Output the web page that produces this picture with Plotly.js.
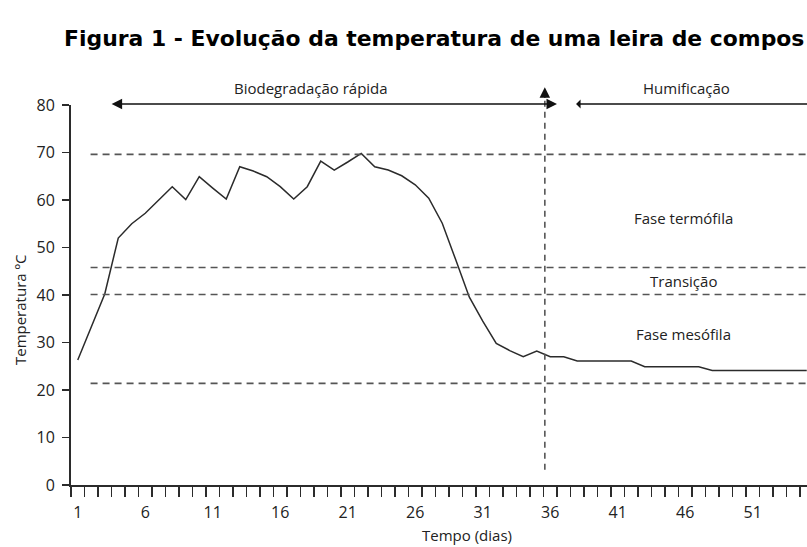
<!DOCTYPE html>
<html>
<head>
<meta charset="utf-8">
<script src="https://cdn.plot.ly/plotly-3.0.1.min.js"></script>
<style>
  html, body { margin: 0; padding: 0; background: #fff; overflow: hidden; }
  #chart { width: 807px; height: 547px; }
</style>
</head>
<body>
<div id="chart"></div>
<script>
// ---- data ----
const days = [1, 2, 3, 4, 5, 6, 7, 8, 9, 10,
              11, 12, 13, 14, 15, 16, 17, 18, 19, 20,
              21, 22, 23, 24, 25, 26, 27, 28, 29, 30,
              31, 32, 33, 34, 35, 36, 37, 38, 39, 40,
              41, 42, 43, 44, 45, 46, 47, 48, 49, 50,
              51, 52, 53, 54, 55];
const temperature = [26.3, 33.2, 40.2, 52.0, 55.0, 57.2, 60.0, 62.8, 60.1, 64.9,
                     62.5, 60.2, 67.0, 66.1, 64.9, 62.8, 60.2, 62.8, 68.2, 66.3,
                     68.0, 69.8, 67.0, 66.3, 65.1, 63.2, 60.4, 55.1, 47.4, 39.6,
                     34.5, 29.8, 28.3, 27.0, 28.2, 27.0, 27.0, 26.1, 26.1, 26.1,
                     26.1, 26.1, 24.9, 24.9, 24.9, 24.9, 24.9, 24.1, 24.1, 24.1,
                     24.1, 24.1, 24.1, 24.1, 24.1];
const xTickDays = [1, 6, 11, 16, 21, 26, 31, 36, 41, 46, 51];
const yTicks = [0, 10, 20, 30, 40, 50, 60, 70, 80];
const phaseLimits = [69.6, 45.8, 40.1, 21.4];          // dashed horizontal lines (ºC)
const phaseNames = ["Fase termófila", "Transição", "Fase mesófila"];
const phaseLabelTemps = [56.2, 42.9, 31.8];
const phaseLabelDay = 45.9;
const stageChangeDay = 35.6;                             // vertical dashed line
const stageNames = ["Biodegradação rápida", "Humificação"];
const stageStart = [3.4, 37.8];
const stageEnd = [36.5, 58];
const stageLabelDays = [18.3, 46.1];

const titleText = "Figura 1 - Evolução da temperatura de uma leira de compos";
const xTitle = "Tempo (dias)";
const yTitle = "Temperatura ºC";

// ---- styles ----
const ink = "#2b2b2b";
const txtFont = { family: "Open Sans, sans-serif", size: 15, color: "#222" };
const tickFont = { family: "Open Sans, sans-serif", size: 16, color: "#222" };

const trace = {
  x: days, y: temperature, type: "scatter", mode: "lines",
  line: { color: ink, width: 1.5 }, hoverinfo: "x+y", showlegend: false
};

const shapes = [];
phaseLimits.forEach(v => {
  shapes.push({ type: "line", xref: "x", yref: "y", x0: 1.95, x1: 60, y0: v, y1: v,
    line: { color: "#555", width: 1.6, dash: "7px,5px" } });
});
shapes.push({ type: "line", xref: "x", yref: "paper", x0: stageChangeDay, x1: stageChangeDay,
  y0: 0.04, y1: 1.02, line: { color: "#555", width: 1.6, dash: "6px,5px" } });

const annotations = [];
// stage arrows above the plot
stageNames.forEach((name, i) => {
  annotations.push({ xref: "x", yref: "paper", x: stageEnd[i], y: 1.0025,
    axref: "x", ayref: "pixel", ax: stageStart[i], ay: 0, text: "",
    showarrow: true, arrowhead: 2, arrowside: i === 0 ? "end+start" : "start",
    arrowsize: 1.4, arrowwidth: 1.5, arrowcolor: "#111" });
  annotations.push({ xref: "x", yref: "paper", x: stageLabelDays[i], y: 1.045,
    text: name, showarrow: false, font: txtFont, xanchor: "center", yanchor: "middle" });
});
// upward arrow head over the vertical line
annotations.push({ xref: "x", yref: "paper", x: stageChangeDay, y: 1.047,
  ax: 0, ay: 12, text: "", showarrow: true, arrowhead: 2, arrowsize: 1.4,
  arrowwidth: 1.5, arrowcolor: "#111" });
// phase labels
phaseNames.forEach((name, i) => {
  annotations.push({ xref: "x", yref: "y", x: phaseLabelDay, y: phaseLabelTemps[i],
    text: name, showarrow: false, font: txtFont, xanchor: "center", yanchor: "middle" });
});
// axis titles
annotations.push({ xref: "paper", yref: "paper", x: -0.0693, y: 0.463, text: yTitle,
  textangle: -90, showarrow: false, font: txtFont, xanchor: "center", yanchor: "middle" });
annotations.push({ xref: "paper", yref: "paper", x: 0.538, y: -0.1316, text: xTitle,
  showarrow: false, font: txtFont, xanchor: "center", yanchor: "middle" });

const layout = {
  width: 807, height: 547,
  margin: { l: 71, r: 0, t: 105, b: 62 },
  paper_bgcolor: "#fff", plot_bgcolor: "#fff",
  title: { text: titleText, xref: "container", yref: "container", x: 64 / 807, y: 0.9305,
    xanchor: "left", yanchor: "middle", pad: { l: 0, r: 0, t: 0, b: 0 },
    font: { family: "DejaVu Sans, sans-serif", size: 21.9, color: "#000", weight: "bold" } },
  xaxis: {
    range: [0.5, 55.02], tickmode: "array", tickvals: xTickDays,
    ticktext: xTickDays.map(String),
    ticks: "outside", ticklen: 12, tickcolor: "rgba(0,0,0,0)",
    tickfont: tickFont, showgrid: false, zeroline: false,
    showline: true, linecolor: ink, linewidth: 2,
    minor: { tick0: 0.5, dtick: 1, ticks: "outside", ticklen: 10, tickwidth: 1.5,
      tickcolor: ink, showgrid: false },
    fixedrange: true
  },
  yaxis: {
    range: [0, 80], tickmode: "array", tickvals: yTicks,
    ticks: "outside", ticklen: 7, tickwidth: 1.5, tickcolor: ink,
    ticklabelstandoff: 4,
    tickfont: tickFont, showgrid: false, zeroline: false,
    showline: true, linecolor: ink, linewidth: 2, fixedrange: true
  },
  shapes: shapes,
  annotations: annotations,
  showlegend: false
};

Plotly.newPlot("chart", [trace], layout, { displayModeBar: false, staticPlot: true });
</script>
</body>
</html>
